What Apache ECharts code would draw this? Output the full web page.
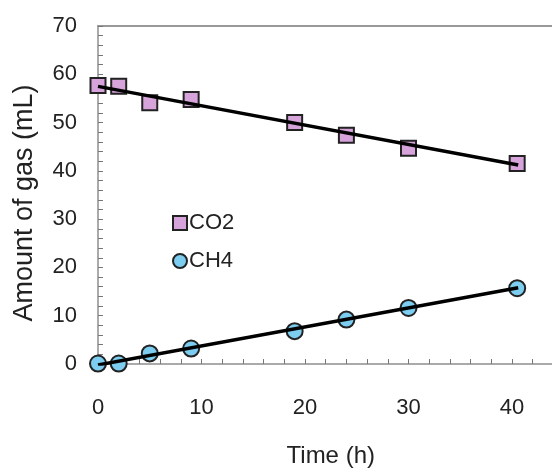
<!DOCTYPE html>
<html>
<head>
<meta charset="utf-8">
<script src="https://cdn.jsdelivr.net/npm/echarts@6/dist/echarts.min.js"></script>
<style>html,body{margin:0;padding:0;background:#fff}#c{width:552px;height:472px}</style>
</head>
<body>
<div id="c"></div>
<script>
var timeH = [0, 2, 5, 9, 19, 24, 30, 40.5];
var co2 = [57.7, 57.5, 54.1, 54.8, 50.0, 47.4, 44.7, 41.5];
var ch4 = [0.1, 0.1, 2.2, 3.2, 6.8, 9.2, 11.6, 15.7];
var co2Trend = [[0, 57.5], [40.6, 41.2]];
var ch4Trend = [[0, -0.2], [40.6, 15.8]];
var xTicks = [0, 10, 20, 30, 40];
var yTicks = [0, 10, 20, 30, 40, 50, 60, 70];

function pairs(xs, ys) { return xs.map(function (x, i) { return [x, ys[i]]; }); }
var splitColors = yTicks.map(function (v, i) { return i === yTicks.length - 1 ? '#999' : 'rgba(0,0,0,0)'; });

var font = 'Liberation Sans, Arial, sans-serif';
var chart = echarts.init(document.getElementById('c'), null, { renderer: 'canvas' });
chart.setOption({
  backgroundColor: '#ffffff',
  animation: false,
  grid: { left: 98, width: 517.5, top: 26, height: 338, outerBoundsMode: 'none', containLabel: false },
  legend: {
    orient: 'vertical', left: 167, top: 207,
    itemWidth: 14, itemHeight: 14, itemGap: 16,
    textStyle: { fontFamily: font, fontSize: 22, color: '#222', padding: [0, 0, 0, -3] },
    data: [{ name: 'CO2', icon: 'rect' }, { name: 'CH4', icon: 'circle' }]
  },
  xAxis: [{
    type: 'value', min: 0, max: 50, interval: 10,
    name: 'Time (h)', nameLocation: 'middle', nameGap: 80,
    nameTextStyle: { fontFamily: font, fontSize: 24, color: '#222', padding: [0, 52, 0, 0] },
    axisLine: { show: true, lineStyle: { color: '#aaa', width: 2 } },
    axisTick: { show: true, inside: true, length: 5, lineStyle: { color: '#777' } },
    minorTick: { show: true, splitNumber: 5, length: 5, lineStyle: { color: '#777' } },
    splitLine: { show: false },
    axisLabel: { fontFamily: font, fontSize: 22, color: '#222', margin: 33,
      formatter: function (v) { return xTicks.indexOf(v) >= 0 ? String(v) : ''; } }
  }, {
    type: 'value', position: 'top', min: 0, max: 50, interval: 10,
    axisLine: { show: true, onZero: false, lineStyle: { color: '#999', width: 2 } },
    axisTick: { show: false }, axisLabel: { show: false }, splitLine: { show: false }
  }],
  yAxis: {
    type: 'value', min: 0, max: 70, interval: 10,
    name: 'Amount of gas (mL)', nameLocation: 'middle', nameGap: 60,
    nameTextStyle: { fontFamily: font, fontSize: 27, color: '#222', padding: [0, 16, 0, 0] },
    axisLine: { show: true, lineStyle: { color: '#aaa', width: 2 } },
    axisTick: { show: true, inside: true, length: 5, lineStyle: { color: '#777' } },
    minorTick: { show: true, splitNumber: 5, length: 5, lineStyle: { color: '#777' } },
    splitLine: { show: true, showMinLine: true, showMaxLine: true,
      lineStyle: { color: splitColors, width: 2, type: 'solid' } },
    axisLabel: { fontFamily: font, fontSize: 22, color: '#222', margin: 21,
      formatter: function (v) { return yTicks.indexOf(v) >= 0 ? String(v) : ''; } }
  },
  series: [
    { name: 'CO2', type: 'scatter', symbol: 'rect', symbolSize: 15, z: 3,
      itemStyle: { color: '#d6a3da', borderColor: '#222', borderWidth: 2, opacity: 1 },
      data: pairs(timeH, co2) },
    { name: 'CH4', type: 'scatter', symbol: 'circle', symbolSize: 16, z: 3,
      itemStyle: { color: '#7ccdf0', borderColor: '#222', borderWidth: 2, opacity: 1 },
      data: pairs(timeH, ch4) },
    { name: 'CO2 trend', type: 'line', data: co2Trend, symbol: 'none', z: 4,
      lineStyle: { color: '#000', width: 3.5 } },
    { name: 'CH4 trend', type: 'line', data: ch4Trend, symbol: 'none', z: 4,
      lineStyle: { color: '#000', width: 3.5 } }
  ]
});
</script>
</body>
</html>
